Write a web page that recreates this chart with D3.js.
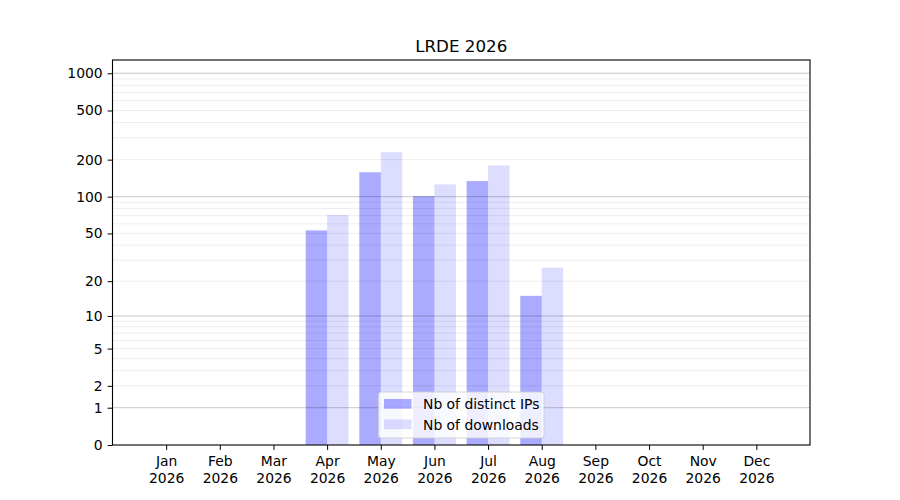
<!DOCTYPE html>
<html>
<head>
<meta charset="utf-8">
<script src="https://cdn.jsdelivr.net/npm/d3@7"></script>
<style>
  body { margin: 0; background: #fff; }
  text { font-family: "DejaVu Sans", sans-serif; fill: #000; }
</style>
</head>
<body>
<svg id="chart"></svg>
<script>
// data
const months = ["Jan", "Feb", "Mar", "Apr", "May", "Jun", "Jul", "Aug", "Sep", "Oct", "Nov", "Dec"];
const year = "2026";
const distinctIPs = [0, 0, 0, 53, 158, 101, 134, 15, 0, 0, 0, 0];
const downloads = [0, 0, 0, 71, 230, 126, 180, 26, 0, 0, 0, 0];
const yTickLabels = [0, 1, 2, 5, 10, 20, 50, 100, 200, 500, 1000];
const yMajorGrid = [1, 10, 100, 1000];
const yMinorGrid = [2, 3, 4, 5, 6, 7, 8, 9, 20, 30, 40, 50, 60, 70, 80, 90, 200, 300, 400, 500, 600, 700, 800, 900];

const width = 900, height = 500;
const margin = {top: 60, right: 90, bottom: 55, left: 112.5};
const iw = width - margin.left - margin.right;
const ih = height - margin.top - margin.bottom;

const svg = d3.select("#chart").attr("width", width).attr("height", height);
const chart = svg.append("g").attr("transform", `translate(${margin.left},${margin.top})`);

const x = d3.scaleLinear().domain([0, 13]).range([0, iw]);
const y = d3.scaleSymlog().constant(1).domain([0, 1280]).range([ih, 0]);
const bw = x(0.4) - x(0);

// bars
chart.append("g").selectAll("rect")
  .data(distinctIPs)
  .join("rect")
  .attr("x", (d, i) => x(i + 1) - bw)
  .attr("y", d => y(d))
  .attr("width", bw)
  .attr("height", d => ih - y(d))
  .attr("fill", "#0000ff")
  .attr("fill-opacity", 0.333);

chart.append("g").selectAll("rect")
  .data(downloads)
  .join("rect")
  .attr("x", (d, i) => x(i + 1))
  .attr("y", d => y(d))
  .attr("width", bw)
  .attr("height", d => ih - y(d))
  .attr("fill", "#0000ff")
  .attr("fill-opacity", 0.133);

// grid (on top of the bars, like matplotlib)
chart.append("g").selectAll("line")
  .data(yMinorGrid)
  .join("line")
  .attr("x1", 0).attr("x2", iw)
  .attr("y1", d => y(d)).attr("y2", d => y(d))
  .attr("stroke", "#000").attr("stroke-opacity", 0.07).attr("stroke-width", 1);

chart.append("g").selectAll("line")
  .data(yMajorGrid)
  .join("line")
  .attr("x1", 0).attr("x2", iw)
  .attr("y1", d => y(d)).attr("y2", d => y(d))
  .attr("stroke", "#000").attr("stroke-opacity", 0.22).attr("stroke-width", 1);

// axes
const yaxis = d3.axisLeft(y)
  .tickValues(yTickLabels)
  .tickFormat(d3.format("d"))
  .tickSize(4.9)
  .tickPadding(4.9);
const yg = chart.append("g").call(yaxis);
yg.select(".domain").remove();
yg.selectAll("line").attr("stroke", "#000").attr("stroke-width", 1);
yg.selectAll("text").attr("font-size", "13.9px").attr("font-family", "DejaVu Sans");

const xaxis = d3.axisBottom(x)
  .tickValues(d3.range(1, 13))
  .tickFormat("")
  .tickSize(4.9);
const xg = chart.append("g").attr("transform", `translate(0,${ih})`).call(xaxis);
xg.select(".domain").remove();
xg.selectAll("line").attr("stroke", "#000").attr("stroke-width", 1);
xg.selectAll(".tick").each(function(d) {
  const t = d3.select(this).append("text")
    .attr("text-anchor", "middle")
    .attr("font-size", "13.9px")
    .attr("fill", "#000");
  t.append("tspan").attr("x", 0).attr("y", 21).text(months[d - 1]);
  t.append("tspan").attr("x", 0).attr("y", 37.5).text(year);
});

// frame
chart.append("rect")
  .attr("x", 0).attr("y", 0).attr("width", iw).attr("height", ih)
  .attr("fill", "none").attr("stroke", "#000").attr("stroke-width", 1.1);

// title
svg.append("text")
  .attr("x", margin.left + iw / 2)
  .attr("y", 52)
  .attr("text-anchor", "middle")
  .attr("font-size", "16.7px")
  .text("LRDE 2026");

// legend
const legendItems = [
  {label: "Nb of distinct IPs", opacity: 0.333},
  {label: "Nb of downloads", opacity: 0.133}
];
const lg = svg.append("g");
lg.append("rect")
  .attr("x", 378.5).attr("y", 392).attr("width", 165.5).attr("height", 46)
  .attr("rx", 3)
  .attr("fill", "#fff").attr("fill-opacity", 0.8)
  .attr("stroke", "#cccccc").attr("stroke-width", 0.8);
legendItems.forEach((it, i) => {
  const cy = 404 + i * 20.5;
  lg.append("rect")
    .attr("x", 384).attr("y", cy - 5).attr("width", 27.5).attr("height", 9.7)
    .attr("fill", "#0000ff").attr("fill-opacity", it.opacity);
  lg.append("text")
    .attr("x", 423).attr("y", cy + 5)
    .attr("font-size", "13.9px")
    .text(it.label);
});
</script>
</body>
</html>
